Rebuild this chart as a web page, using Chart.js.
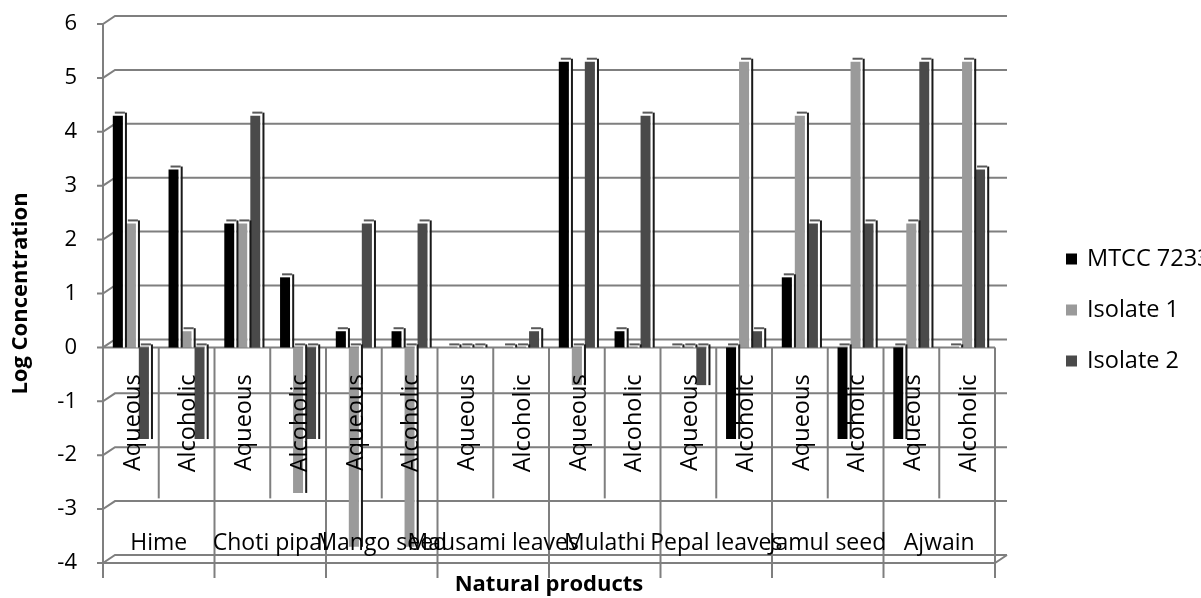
<!DOCTYPE html>
<html>
<head>
<meta charset="utf-8">
<script src="https://cdn.jsdelivr.net/npm/chart.js@4/dist/chart.umd.min.js"></script>
<style>
  html, body { margin: 0; padding: 0; background: #fff; }
  #wrap { width: 1201px; height: 598px; position: relative; }
</style>
</head>
<body>
<div id="wrap"><canvas id="myChart"></canvas></div>
<script>
// data
const products = ["Hime", "Choti pipal", "Mango seed", "Mausami leaves", "Mulathi", "Pepal leaves", "Jamul seed", "Ajwain"];
const extracts = ["Aqueous", "Alcoholic"];
const seriesNames = ["MTCC 7233", "Isolate 1", "Isolate 2"];
const mtcc     = [4.3, 3.3, 2.3, 1.3, 0.3, 0.3, 0, 0, 5.3, 0.3, 0, -1.7, 1.3, -1.7, -1.7, 0];
const isolate1 = [2.3, 0.3, 2.3, -2.7, -3.7, -3.7, 0, 0, -0.7, 0, 0, 5.3, 4.3, 5.3, 2.3, 5.3];
const isolate2 = [-1.7, -1.7, 4.3, -1.7, 2.3, 2.3, 0, 0.3, 5.3, 4.3, -0.7, 0.3, 2.3, 2.3, 5.3, 3.3];
const yTicks = [-4, -3, -2, -1, 0, 1, 2, 3, 4, 5, 6];
const colors = ["#000000", "#9a9a9a", "#4a4a4a"];

const FONT = "'Open Sans', sans-serif";
const DX = 12, DY = -8; // back wall offset of the fake 3D

const labels = [];
products.forEach(p => extracts.forEach(e => labels.push([e, p])));

// back wall, floor and category table
const frame = {
	id: "frame",
	beforeDatasetsDraw(chart) {
		const { ctx, chartArea: a, scales: { x, y } } = chart;
		ctx.save();
		ctx.strokeStyle = "#7f7f7f";
		ctx.lineWidth = 2;
		yTicks.forEach(v => {
			const py = y.getPixelForValue(v);
			ctx.beginPath();
			ctx.moveTo(a.left - 6, py);
			ctx.lineTo(a.left, py);
			ctx.lineTo(a.left + DX, py + DY);
			ctx.lineTo(a.right + DX, py + DY);
			ctx.stroke();
		});
		// y axis line
		ctx.beginPath();
		ctx.moveTo(a.left, a.top - 1);
		ctx.lineTo(a.left, a.bottom + 15);
		ctx.stroke();
		// front floor
		ctx.beginPath();
		ctx.moveTo(a.left, a.bottom);
		ctx.lineTo(a.right, a.bottom);
		ctx.lineTo(a.right + DX, a.bottom + DY);
		ctx.stroke();
		// category axis at zero
		const y0 = y.getPixelForValue(0);
		ctx.beginPath();
		ctx.moveTo(a.left, y0);
		ctx.lineTo(a.right, y0);
		ctx.stroke();
		const w = (a.right - a.left) / labels.length;
		for (let i = 0; i <= labels.length; i++) {
			const px = a.left + i * w;
			ctx.beginPath();
			ctx.moveTo(px, y0);
			ctx.lineTo(px, i % 2 === 0 ? a.bottom + 15 : y0 + 151);
			ctx.stroke();
		}
		ctx.restore();
	},
	afterDatasetsDraw(chart) {
		const { ctx, chartArea: a, scales: { x, y } } = chart;
		ctx.save();
		// side face and top of each bar
		chart.data.datasets.forEach((ds, di) => {
			chart.getDatasetMeta(di).data.forEach(bar => {
				const p = bar.getProps(["x", "y", "base", "width"], true);
				const top = Math.min(p.y, p.base), bot = Math.max(p.y, p.base);
				const l = p.x - p.width / 2, r = p.x + p.width / 2;
				ctx.fillStyle = "#ffffff";
				ctx.fillRect(r, top - 3, 2, bot - top + 3);
				ctx.fillStyle = "#1a1a1a";
				ctx.fillRect(r + 2, top - 3, 2, bot - top + 3);
				ctx.fillStyle = "#5a5a5a";
				ctx.fillRect(l + 2, top - 4, p.width, 2);
			});
		});

		// category labels
		const y0 = y.getPixelForValue(0);
		ctx.fillStyle = "#000";
		ctx.font = "23.5px " + FONT;
		labels.forEach((lb, i) => {
			const px = x.getPixelForValue(i);
			ctx.save();
			ctx.translate(px + 2, y0 + 27);
			ctx.rotate(-Math.PI / 2);
			ctx.textAlign = "right";
			ctx.textBaseline = "middle";
			ctx.fillText(lb[0], 0, 0);
			ctx.restore();
		});
		const gw = (a.right - a.left) / products.length;
		ctx.font = "23px " + FONT;
		ctx.textAlign = "center";
		ctx.textBaseline = "middle";
		products.forEach((p, i) => {
			ctx.fillText(p, a.left + gw * (i + 0.5), 543);
		});

		// legend
		ctx.font = "23.5px " + FONT;
		ctx.textAlign = "left";
		chart.data.datasets.forEach((ds, i) => {
			const cy = 259 + i * 51;
			ctx.fillStyle = ds.backgroundColor;
			ctx.fillRect(1066, cy - 5.5, 11, 11);
			ctx.fillStyle = "#000";
			ctx.fillText(ds.label, 1087, cy);
		});
		ctx.restore();
	}
};

const ctx = document.getElementById("myChart");
new Chart(ctx, {
	type: "bar",
	data: {
		labels: labels,
		datasets: [
			{ label: seriesNames[0], data: mtcc, backgroundColor: colors[0] },
			{ label: seriesNames[1], data: isolate1, backgroundColor: colors[1] },
			{ label: seriesNames[2], data: isolate2, backgroundColor: colors[2] }
		]
	},
	options: {
		responsive: true,
		maintainAspectRatio: false,
		devicePixelRatio: 1,
		animation: false,
		categoryPercentage: 0.7,
		barPercentage: 0.78,
		layout: { padding: { top: 24, right: 206, left: 0, bottom: 0 } },
		plugins: { legend: { display: false }, tooltip: { enabled: false } },
		scales: {
			x: {
				afterFit(s) { s.height = 35; s.paddingLeft = 0; s.paddingRight = 0; },
				ticks: { display: false },
				grid: { display: false },
				border: { display: false },
				title: {
					display: true,
					text: "Natural products",
					color: "#000",
					font: { family: FONT, size: 22, weight: "bold" },
					padding: 0
				}
			},
			y: {
				min: -4,
				max: 6,
				afterFit(s) { s.width = 103; s.paddingTop = 0; s.paddingBottom = 0; },
				afterBuildTicks(s) { s.ticks = yTicks.map(v => ({ value: v })); },
				ticks: { color: "#000", padding: 18, font: { family: FONT, size: 22 } },
				grid: { display: false },
				border: { display: false },
				title: {
					display: true,
					text: "Log Concentration",
					color: "#000",
					font: { family: FONT, size: 22, weight: "bold" },
					padding: { top: 8, bottom: 0 }
				}
			}
		}
	},
	plugins: [frame]
});
</script>
</body>
</html>
